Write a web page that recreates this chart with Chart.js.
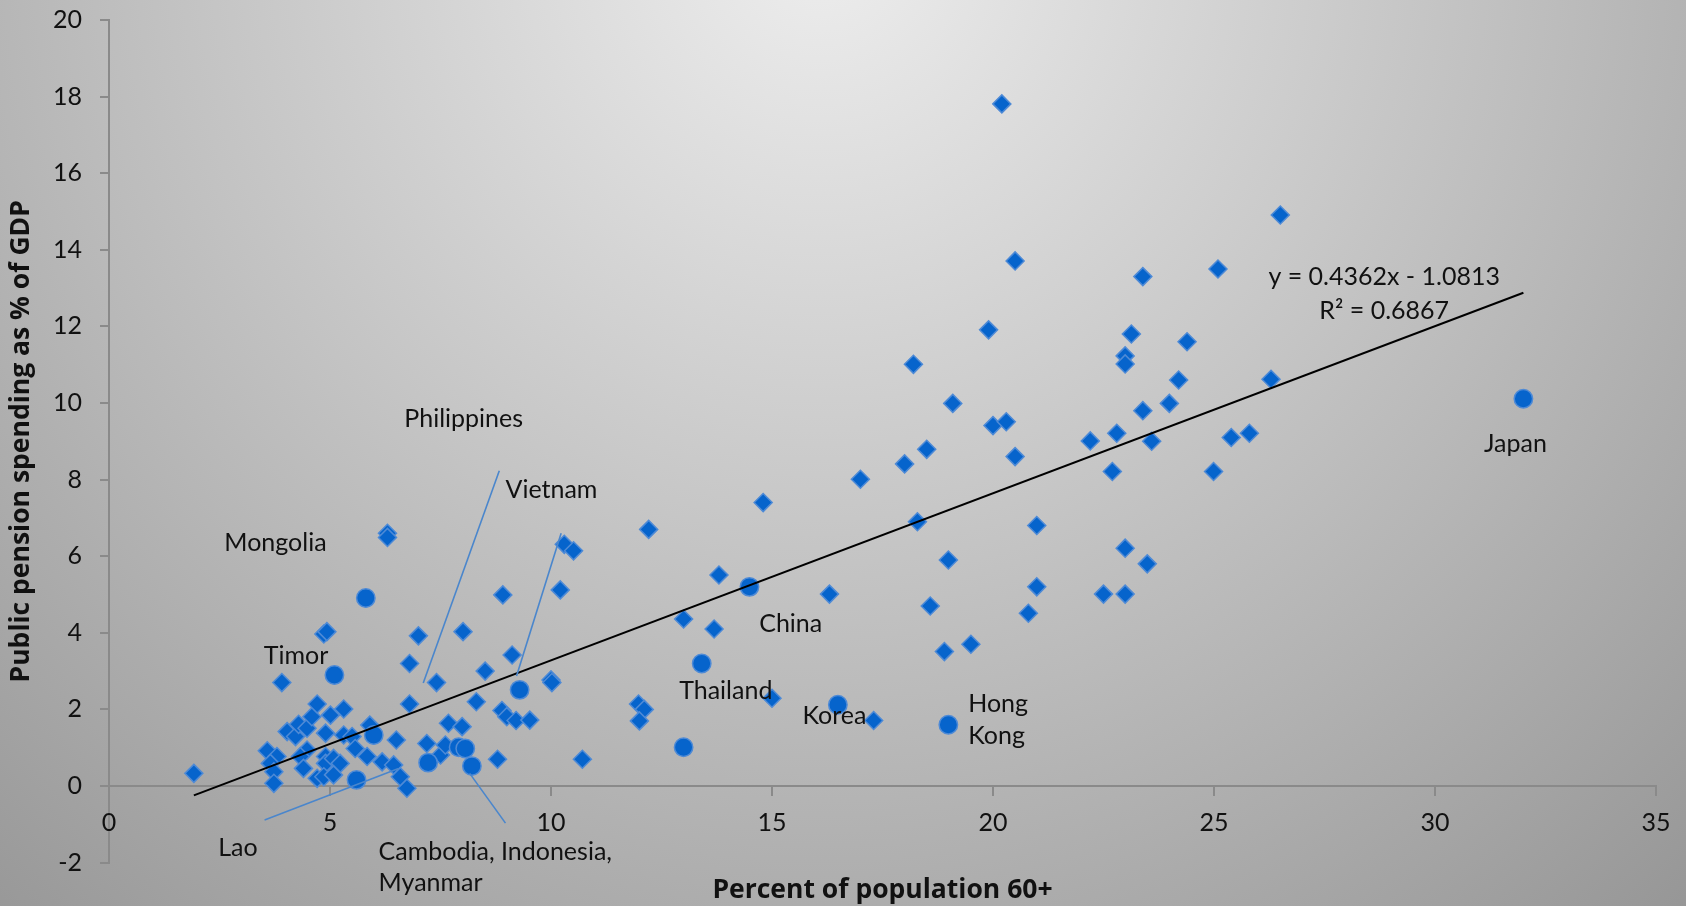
<!DOCTYPE html>
<html>
<head>
<meta charset="utf-8">
<title>Public pension spending vs. population aged 60+</title>
<script src="https://cdn.jsdelivr.net/npm/chart.js@4.4.1/dist/chart.umd.min.js"></script>
<style>
  html, body { margin: 0; padding: 0; background: #cfcfcf; }
  canvas { display: block; }
</style>
</head>
<body>
<canvas id="chart" width="1686" height="906"></canvas>
<script>
// Countries worldwide: share of population aged 60+ (x) and public pension spending, % of GDP (y)
const worldX = [
  1.92, 3.58, 3.80, 3.65, 3.73, 3.73, 3.91, 4.03, 4.22, 4.29, 4.48, 4.59, 4.71, 4.48, 4.33, 4.40, 4.71,
  4.86, 4.93, 4.90, 5.01, 5.31, 5.31, 5.50, 5.90, 4.90, 4.90, 5.08, 5.23, 4.86, 5.08, 5.57, 5.84,
  6.18, 6.44, 6.59, 6.74, 6.50, 6.30, 6.30, 6.80, 7.00, 6.80, 7.41, 8.01, 7.19, 7.50, 7.61, 7.68, 7.99,
  8.31, 8.51, 8.91, 9.12, 8.89, 9.00, 9.21, 9.52, 8.79, 10.71, 10.00, 10.02, 10.21, 10.30, 10.51,
  11.98, 12.11, 12.00, 12.21, 13.00, 13.69, 13.80, 14.80, 15.00, 16.30, 17.00, 17.30,
  18.00, 18.20, 18.29, 18.50, 18.58, 18.90, 18.99, 19.09, 19.50, 19.90, 20.00, 20.20, 20.30, 20.50, 20.50,
  20.80, 20.99, 20.99, 22.20, 22.50, 22.70, 22.80, 22.99, 22.99, 22.99, 22.99, 23.13, 23.39, 23.39,
  23.49, 23.59, 23.99, 24.20, 24.39, 24.99, 25.09, 25.39, 25.80, 26.29, 26.50
];
const worldY = [
  0.33, 0.92, 0.77, 0.59, 0.37, 0.07, 2.70, 1.42, 1.29, 1.61, 1.51, 1.81, 2.14, 0.94, 0.77, 0.46, 0.20,
  3.97, 4.03, 1.38, 1.85, 2.01, 1.33, 1.29, 1.59, 0.77, 0.59, 0.72, 0.59, 0.24, 0.29, 0.98, 0.77,
  0.63, 0.55, 0.24, -0.06, 1.20, 6.60, 6.49, 2.14, 3.92, 3.20, 2.70, 4.03, 1.11, 0.81, 1.07, 1.64, 1.55,
  2.20, 3.00, 4.99, 3.42, 1.97, 1.81, 1.71, 1.72, 0.70, 0.70, 2.77, 2.70, 5.12, 6.31, 6.14,
  2.14, 2.00, 1.70, 6.70, 4.36, 4.10, 5.51, 7.40, 2.29, 5.01, 8.01, 1.71,
  8.41, 11.01, 6.90, 8.79, 4.70, 3.51, 5.90, 9.99, 3.70, 11.91, 9.41, 17.81, 9.51, 13.71, 8.60,
  4.51, 6.80, 5.20, 9.01, 5.01, 8.21, 9.21, 11.23, 11.02, 6.21, 5.01, 11.80, 13.30, 9.80,
  5.80, 9.00, 9.99, 10.60, 11.60, 8.21, 13.50, 9.10, 9.21, 10.62, 14.91
];

// East and Southeast Asian economies
const asiaX = [5.81, 5.10, 5.99, 5.60, 7.22, 7.91, 8.06, 8.21, 9.29, 13.00, 13.41, 14.49, 16.49, 18.99, 32.00];
const asiaY = [4.91, 2.90, 1.33, 0.16, 0.61, 1.01, 0.98, 0.52, 2.51, 1.01, 3.20, 5.20, 2.12, 1.60, 10.11];

// Linear trend fitted to all countries
const trendSlope = 0.4362;
const trendIntercept = -1.0813;
const trendR2 = 0.6867;
const trendXRange = [1.92, 32.0];

// Country name labels (left edge x, vertical centre y, in data units)
const labelText = ['Philippines', 'Vietnam', 'Mongolia', 'Timor', 'Lao', 'Cambodia, Indonesia,', 'Myanmar',
                   'China', 'Thailand', 'Korea', 'Hong', 'Kong', 'Japan'];
const labelX = [6.68, 8.97, 2.61, 3.50, 2.47, 6.10, 6.10, 14.71, 12.90, 15.69, 19.44, 19.44, 31.11];
const labelY = [9.58, 7.73, 6.34, 3.39, -1.62, -1.71, -2.54, 4.23, 2.49, 1.84, 2.13, 1.30, 8.93];

// Pointer lines from labels to their markers
const leaderX = [[8.83, 7.11], [10.23, 9.22], [3.52, 6.55], [8.16, 8.97]];
const leaderY = [[8.23, 2.69], [6.60, 2.87], [-0.89, 0.46], [0.33, -0.97]];

// Trend equation placement (centre x, line centres y)
const equationX = 28.85;
const equationY = [13.28, 12.40];

const yTicks = [-2, 0, 2, 4, 6, 8, 10, 12, 14, 16, 18, 20];
const xTicks = [0, 5, 10, 15, 20, 25, 30, 35];

const FONT = 'Lato, "Open Sans", "DejaVu Sans", sans-serif';
const TITLE_FONT = '"Open Sans", Lato, "DejaVu Sans", sans-serif';
const MARK_FILL = 'rgb(6, 100, 204)';
const MARK_EDGE = 'rgb(78, 138, 214)';
const LEADER = 'rgb(74, 134, 204)';

const toPoints = (xs, ys) => xs.map((x, i) => ({ x, y: ys[i] }));

const backdrop = {
  id: 'backdrop',
  beforeDraw(chart) {
    const { ctx, width, height } = chart;
    const g = ctx.createRadialGradient(820, -60, 0, 820, -60, 1350);
    g.addColorStop(0, '#eeeeee');
    g.addColorStop(1, '#939393');
    ctx.save();
    ctx.fillStyle = g;
    ctx.fillRect(0, 0, width, height);
    ctx.restore();
  }
};

const annotations = {
  id: 'annotations',
  afterDatasetsDraw(chart) {
    const { ctx } = chart;
    const xs = chart.scales.x, ys = chart.scales.y;
    ctx.save();
    ctx.fillStyle = '#111111';
    ctx.font = '25px ' + FONT;
    ctx.textBaseline = 'middle';
    ctx.textAlign = 'left';
    labelText.forEach((t, i) => {
      ctx.fillText(t, xs.getPixelForValue(labelX[i]), ys.getPixelForValue(labelY[i]));
    });
    ctx.textAlign = 'center';
    const eqLines = [
      'y = ' + trendSlope + 'x - ' + Math.abs(trendIntercept),
      'R\u00B2 = ' + trendR2
    ];
    eqLines.forEach((t, i) => {
      ctx.fillText(t, xs.getPixelForValue(equationX), ys.getPixelForValue(equationY[i]));
    });
    ctx.restore();
  }
};

const leaderSets = leaderX.map((xs, i) => ({
  type: 'line',
  data: toPoints(xs, leaderY[i]),
  borderColor: LEADER,
  borderWidth: 1.6,
  pointRadius: 0,
  fill: false
}));

const trendSet = {
  type: 'line',
  data: trendXRange.map(x => ({ x, y: trendSlope * x + trendIntercept })),
  borderColor: '#000000',
  borderWidth: 2,
  pointRadius: 0,
  fill: false
};

const asiaSet = {
  type: 'scatter',
  data: toPoints(asiaX, asiaY),
  pointStyle: 'circle',
  pointRadius: 9.2,
  backgroundColor: MARK_FILL,
  borderColor: MARK_EDGE,
  borderWidth: 1.5
};

const worldSet = {
  type: 'scatter',
  data: toPoints(worldX, worldY),
  pointStyle: 'rectRot',
  pointRadius: 9,
  backgroundColor: MARK_FILL,
  borderColor: MARK_EDGE,
  borderWidth: 1.5
};

new Chart(document.getElementById('chart'), {
  type: 'scatter',
  data: { datasets: [...leaderSets, trendSet, asiaSet, worldSet] },
  plugins: [backdrop, annotations],
  options: {
    responsive: false,
    devicePixelRatio: 1,
    animation: false,
    events: [],
    layout: { padding: { left: 0, right: 30, top: 20, bottom: 0 } },
    plugins: { legend: { display: false }, tooltip: { enabled: false } },
    scales: {
      y: {
        type: 'linear',
        position: 'left',
        min: -2,
        max: 20,
        afterBuildTicks: s => { s.ticks = yTicks.map(v => ({ value: v })); },
        afterFit: s => { s.width = 109; s.paddingTop = 0; s.paddingBottom = 0; },
        ticks: { font: { family: FONT, size: 25 }, color: '#111111', padding: 18 },
        grid: { display: true, drawOnChartArea: false, drawTicks: true, tickLength: 9, color: '#8a8a8a', lineWidth: 2 },
        border: { display: true, color: '#8a8a8a', width: 2 },
        title: {
          display: true,
          text: 'Public pension spending as % of GDP',
          font: { family: TITLE_FONT, size: 26.5, weight: 'bold' },
          color: '#111111',
          padding: { top: 6, bottom: 0 }
        }
      },
      x: {
        type: 'linear',
        position: { y: 0 },
        min: 0,
        max: 35,
        afterBuildTicks: s => { s.ticks = xTicks.map(v => ({ value: v })); },
        afterFit: s => { s.height = 0; },
        ticks: { font: { family: FONT, size: 25 }, color: '#111111', padding: 13, maxRotation: 0 },
        grid: { display: true, drawOnChartArea: false, drawTicks: true, tickLength: 9, color: '#8a8a8a', lineWidth: 2 },
        border: { display: true, color: '#8a8a8a', width: 2 }
      },
      xTitle: {
        type: 'linear',
        position: 'bottom',
        min: 0,
        max: 35,
        afterFit: s => { s.height = 43.4; },
        ticks: { display: false },
        grid: { display: false, drawTicks: false },
        border: { display: false },
        title: {
          display: true,
          text: 'Percent of population 60+',
          font: { family: TITLE_FONT, size: 26.5, weight: 'bold' },
          color: '#111111',
          padding: { top: 0, bottom: 0 }
        }
      }
    }
  }
});
</script>
</body>
</html>
